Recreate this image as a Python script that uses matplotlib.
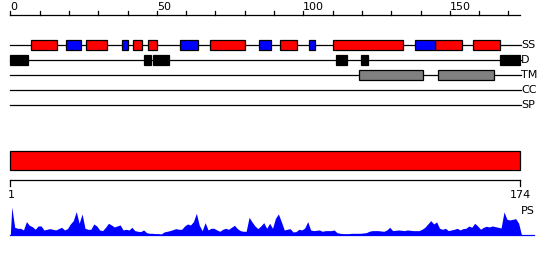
import matplotlib
matplotlib.use("Agg")
import matplotlib.pyplot as plt
from matplotlib.patches import Rectangle

# ---------------- data ----------------
seq_len = 174
ruler_ticks = list(range(0, 171, 10))
ruler_labels = [0, 50, 100, 150]

track_names = ["SS", "D", "TM", "CC", "SP"]

ss_helix = [(7, 16), (26, 33), (42, 45), (47, 50), (68, 80), (92, 98),
            (110, 134), (145, 154), (158, 167)]
ss_strand = [(19, 24), (38, 40), (58, 64), (85, 89), (102, 104), (138, 145)]
disorder = [(0, 6), (45.5, 48), (48.7, 54), (111, 115), (119.7, 122), (167, 174)]
tm_regions = [(119, 141), (146, 165)]
cc_regions = []
sp_regions = []

domain = (1, 174)

ps_values = [85, 24, 21, 21, 16, 41, 30, 26, 18, 28,
             28, 16, 18, 20, 18, 16, 20, 24, 16, 20,
             34, 44, 71, 36, 64, 21, 18, 18, 34, 28,
             16, 14, 24, 36, 31, 25, 28, 31, 16, 18,
             16, 24, 14, 12, 11, 16, 8, 6, 6, 5,
             5, 4, 10, 12, 14, 17, 20, 18, 18, 28,
             34, 31, 41, 66, 30, 14, 38, 16, 21, 21,
             16, 12, 18, 21, 18, 24, 30, 20, 14, 12,
             12, 54, 40, 28, 20, 28, 38, 21, 36, 21,
             51, 64, 41, 16, 18, 20, 10, 11, 18, 16,
             22, 41, 16, 14, 15, 16, 12, 14, 14, 14,
             16, 8, 6, 5, 5, 5, 6, 6, 6, 6,
             7, 8, 12, 14, 14, 14, 13, 12, 16, 24,
             14, 15, 16, 15, 14, 16, 15, 14, 14, 14,
             18, 24, 34, 44, 34, 40, 21, 18, 21, 14,
             16, 18, 21, 16, 20, 21, 28, 24, 36, 28,
             18, 24, 27, 25, 28, 26, 24, 22, 70, 48,
             46, 48, 50, 36]

# ---------------- layout (pixel based) ----------------
W, H = 550, 260
x0_px, px_per_res = 10.3, 2.93
track_y = {"SS": 45, "D": 60, "TM": 75, "CC": 90, "SP": 105}
box_half = 5
ruler_y = 14.5
FS = 8

fig = plt.figure(figsize=(W / 100, H / 100), dpi=100)
ax = fig.add_axes([0, 0, 1, 1])
ax.set_xlim(-x0_px / px_per_res, (W - x0_px) / px_per_res)
ax.set_ylim(H, 0)
ax.axis("off")

lw = 0.9
label_x = (521 - x0_px) / px_per_res

# top ruler
ax.plot([0, 174], [ruler_y, ruler_y], color="black", lw=lw)
for t in ruler_ticks:
    ax.plot([t, t], [ruler_y, ruler_y - 4], color="black", lw=lw)
for t in ruler_labels:
    ax.text(t, ruler_y - 5, str(t), ha="left", va="baseline", fontsize=FS)

# tracks
def boxes(regions, y, color):
    for s, e in regions:
        ax.add_patch(Rectangle((s, y - box_half), e - s, 2 * box_half,
                               facecolor=color, edgecolor="black", lw=lw, zorder=3))

for name in track_names:
    y = track_y[name]
    ax.plot([-0.1, label_x], [y, y], color="black", lw=lw, zorder=1)
    ax.text(label_x, y, name, ha="left", va="center", fontsize=FS)

boxes(ss_helix, track_y["SS"], "#ff0000")
boxes(ss_strand, track_y["SS"], "#0000ff")
boxes(disorder, track_y["D"], "black")
boxes(tm_regions, track_y["TM"], "#808080")
boxes(cc_regions, track_y["CC"], "#808080")
boxes(sp_regions, track_y["SP"], "#808080")

# domain bar
ax.add_patch(Rectangle((domain[0] - 1, 150.7), domain[1] - domain[0] + 1, 19.6,
                       facecolor="#ff0000", edgecolor="black", lw=lw, zorder=3))

# lower ruler
ly = 180.3
ax.plot([0, 174], [ly, ly], color="black", lw=lw)
ax.plot([0, 0], [ly, ly + 5.5], color="black", lw=lw)
ax.plot([174, 174], [ly, ly + 5.5], color="black", lw=lw)
ax.text(0.2, 195.5, "1", ha="center", va="center", fontsize=FS)
ax.text(174, 195.5, "174", ha="center", va="center", fontsize=FS)

# PS profile
base = 235.3
xs = [0] + [i - 0.5 for i in range(1, seq_len + 1)] + [174.5]
ys = [base] + [base - v / 3.0 for v in ps_values] + [base]
ax.fill_between(xs, ys, base, color="#0000ff", lw=0, zorder=2)
ax.plot([0, (534 - x0_px) / px_per_res], [base, base], color="#0000ff", lw=lw)
ax.text(label_x, 211, "PS", ha="left", va="center", fontsize=FS)

fig.savefig("out.png", dpi=100)
